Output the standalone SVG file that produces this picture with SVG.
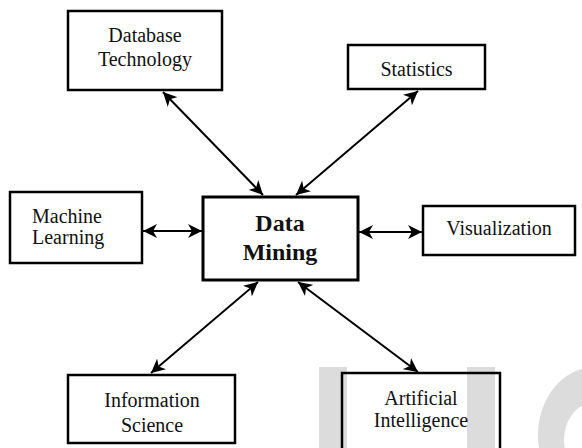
<svg xmlns="http://www.w3.org/2000/svg" width="582" height="448" viewBox="0 0 582 448">
<style>
.box{fill:none;stroke:#000;stroke-width:2.5}
.main{fill:none;stroke:#000;stroke-width:3}
.t{font-family:"Liberation Serif","Times New Roman",serif;font-size:20px;fill:#111;text-anchor:middle}
.b{font-family:"Liberation Serif","Times New Roman",serif;font-size:24px;font-weight:bold;fill:#111;text-anchor:middle}
.c{stroke:#000;stroke-width:2;fill:none;marker-start:url(#ah);marker-end:url(#ah)}
.wm{fill:#dcdcdc}
</style>
<defs>
<marker id="ah" markerUnits="userSpaceOnUse" viewBox="0 0 14 14" markerWidth="14" markerHeight="14" refX="14" refY="7" orient="auto-start-reverse">
<path d="M0,0 L14,7 L0,14 L4,7 z" fill="#000"/>
</marker>
</defs>
<rect width="582" height="448" fill="#fff"/>
<g id="watermark">
<rect class="wm" x="319" y="367" width="28" height="81"/>
<rect class="wm" x="467" y="367" width="28" height="81"/>
<path class="wm" fill-rule="evenodd" d="M538,435 A57,68 0 1,1 652,435 A57,68 0 1,1 538,435 Z M564,440 A31,38 0 1,0 626,440 A31,38 0 1,0 564,440 Z"/>
</g>
<g id="connectors">
<line class="c" x1="163" y1="92" x2="263" y2="195"/>
<line class="c" x1="418" y1="91" x2="296" y2="195"/>
<line class="c" x1="143" y1="231" x2="202" y2="231"/>
<line class="c" x1="359" y1="232" x2="422" y2="232"/>
<line class="c" x1="151" y1="373" x2="258" y2="282"/>
<line class="c" x1="418" y1="372" x2="298" y2="282"/>
</g>
<g id="database-technology">
<rect class="box" x="68" y="11" width="154" height="79"/>
<text class="t" x="145" y="42">Database</text>
<text class="t" x="145" y="66">Technology</text>
</g>
<g id="statistics">
<rect class="box" x="348" y="45" width="137" height="44"/>
<text class="t" x="416.5" y="76">Statistics</text>
</g>
<g id="machine-learning">
<rect class="box" x="10" y="192" width="132" height="71"/>
<text class="t" x="32" y="223" style="text-anchor:start">Machine</text>
<text class="t" x="32" y="244" style="text-anchor:start">Learning</text>
</g>
<g id="data-mining">
<rect class="main" x="203" y="197" width="155" height="83"/>
<text class="b" x="280" y="231">Data</text>
<text class="b" x="280" y="260">Mining</text>
</g>
<g id="visualization">
<rect class="box" x="423" y="206" width="152" height="49"/>
<text class="t" x="499" y="235">Visualization</text>
</g>
<g id="information-science">
<rect class="box" x="68" y="375" width="167" height="68"/>
<text class="t" x="152" y="407">Information</text>
<text class="t" x="152" y="432">Science</text>
</g>
<g id="artificial-intelligence">
<rect class="box" x="342" y="373" width="158" height="80"/>
<text class="t" x="421" y="405">Artificial</text>
<text class="t" x="421" y="427">Intelligence</text>
</g>
</svg>
